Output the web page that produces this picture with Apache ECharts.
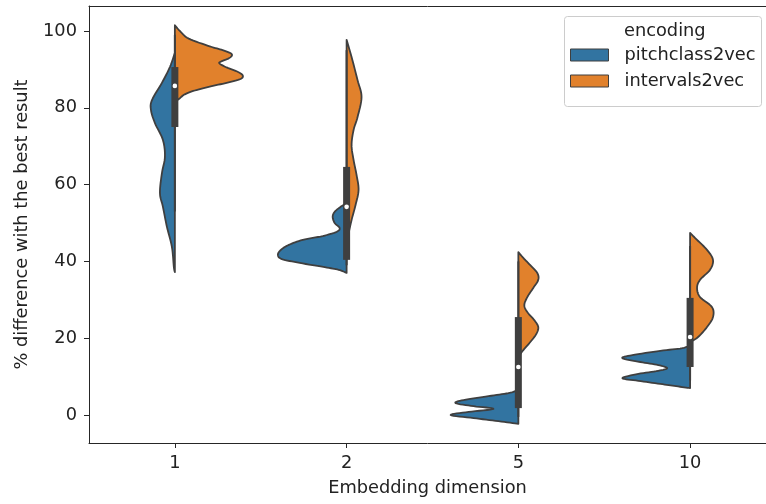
<!DOCTYPE html>
<html>
<head>
<meta charset="utf-8">
<script src="https://cdn.jsdelivr.net/npm/echarts@6/dist/echarts.min.js"></script>
<style>
  html, body { margin: 0; padding: 0; background: #fff; }
  #chart { width: 766px; height: 504px; }
</style>
</head>
<body>
<div id="chart"></div>
<script>
var categories = ['1', '2', '5', '10'];
var yTicks = [0, 20, 40, 60, 80, 100];

// density outlines: [value, density]
var pitchclass2vec = [
  [[94.3, 0], [90.6, 5], [86.5, 13], [82, 23], [79.4, 24], [76, 20], [71.6, 12], [67.2, 10], [63, 13], [57.8, 15], [54.2, 12], [49, 8], [43.8, 3], [38.5, 1], [37.2, 0]],
  [[55.2, 0], [54.2, 6], [52.9, 12], [51.6, 14], [50, 12], [48.7, 7], [47.7, 10], [46.6, 24], [45.6, 44], [44.3, 58], [43, 66], [41.7, 69], [40.6, 65], [39.6, 47], [38.5, 22], [37.8, 8], [37, 0]],
  [[6.5, 0], [5.7, 10], [4.9, 30], [3.9, 55], [3.1, 63], [2.3, 45], [1.6, 25], [0.8, 50], [0, 68], [-0.8, 45], [-1.6, 20], [-2.3, 0]],
  [[18.2, 0], [17.4, 8], [16.7, 30], [15.6, 58], [14.8, 68], [13.8, 50], [13, 32], [12.2, 23], [11.5, 32], [10.7, 52], [9.6, 68], [8.9, 52], [8.1, 30], [7.5, 14], [7, 0]]
];
var intervals2vec = [
  [[101.5, 0], [100, 5], [98, 14], [96, 35], [95, 48], [94, 57], [93, 55], [92, 46], [91.5, 45], [90.5, 52], [89.5, 62], [88.5, 68], [87.5, 66], [86.5, 52], [85.5, 35], [84.5, 20], [83.5, 10], [82.5, 5], [81.5, 0]],
  [[97.7, 0], [93.2, 5], [87.2, 11], [82.8, 15], [77.6, 11], [74.2, 7], [70.3, 5], [66.4, 7], [62.5, 10], [58.6, 12], [54.7, 9], [50.8, 5], [47.4, 2], [45.6, 0]],
  [[42.4, 0], [40.9, 5], [39, 12], [37, 19], [35.2, 20], [33.1, 15], [30.7, 9], [28.6, 6], [26.8, 9], [24.7, 16], [22.9, 20], [21.1, 18], [19, 12], [16.9, 5], [15.1, 0]],
  [[47.4, 0], [45.6, 7], [43, 17], [40.4, 23], [37.8, 20], [35.2, 10], [33.1, 7], [30.7, 10], [28.1, 22], [25.5, 23], [22.9, 17], [20.3, 8], [19, 0]]
];

// inner box stats
var q1 = [75, 40.4, 1.8, 12.5];
var medians = [85.7, 54.2, 12.5, 20.3];
var q3 = [90.6, 64.6, 25.5, 30.5];
var whiskerLow = [53, 39, -0.5, 9];
var whiskerHigh = [99, 95, 40, 44];

var blue = '#3274a1';
var orange = '#e1812c';
var edge = '#3f3f3f';
var spine = '#262626';

var maxDensity = 0;
pitchclass2vec.concat(intervals2vec).forEach(function (p) {
  p.forEach(function (d) { maxDensity = Math.max(maxDensity, d[1]); });
});

// catmull-rom sampling so the outline looks like a kde curve
function smoothPoints(pts) {
  var out = [];
  for (var i = 0; i < pts.length - 1; i++) {
    var p0 = pts[i - 1] || pts[i], p1 = pts[i], p2 = pts[i + 1], p3 = pts[i + 2] || pts[i + 1];
    for (var t = 0; t < 1; t += 0.125) {
      var t2 = t * t, t3 = t2 * t;
      var x = 0.5 * ((2 * p1[0]) + (-p0[0] + p2[0]) * t + (2 * p0[0] - 5 * p1[0] + 4 * p2[0] - p3[0]) * t2 + (-p0[0] + 3 * p1[0] - 3 * p2[0] + p3[0]) * t3);
      var y = 0.5 * ((2 * p1[1]) + (-p0[1] + p2[1]) * t + (2 * p0[1] - 5 * p1[1] + 4 * p2[1] - p3[1]) * t2 + (-p0[1] + 3 * p1[1] - 3 * p2[1] + p3[1]) * t3);
      out.push([x, y]);
    }
  }
  out.push(pts[pts.length - 1]);
  return out;
}

function violin(profiles, side, color) {
  return function (params, api) {
    var i = api.value(0);
    var cx = api.coord([i, 0])[0];
    var half = api.size([1, 0])[0] * 0.4;
    var pts = profiles[i].map(function (d) {
      return [cx + side * d[1] / maxDensity * half, api.coord([i, d[0]])[1]];
    });
    var outline = smoothPoints(pts).map(function (p) {
      return [side < 0 ? Math.min(p[0], cx) : Math.max(p[0], cx), p[1]];
    });
    return {
      type: 'polygon',
      shape: { points: outline },
      style: { fill: color, stroke: edge, lineWidth: 1.8, lineJoin: 'round' }
    };
  };
}

function innerBox(params, api) {
  var i = api.value(0);
  var cx = api.coord([i, 0])[0];
  var yLo = api.coord([i, whiskerLow[i]])[1];
  var yHi = api.coord([i, whiskerHigh[i]])[1];
  var yQ1 = api.coord([i, q1[i]])[1];
  var yQ3 = api.coord([i, q3[i]])[1];
  var yMed = api.coord([i, medians[i]])[1];
  return {
    type: 'group',
    children: [
      { type: 'line', shape: { x1: cx, y1: yLo, x2: cx, y2: yHi }, style: { stroke: edge, lineWidth: 2 } },
      { type: 'rect', shape: { x: cx - 3.5, y: yQ3, width: 7, height: yQ1 - yQ3 }, style: { fill: edge } },
      { type: 'circle', shape: { cx: cx, cy: yMed, r: 2.3 }, style: { fill: '#fff' } }
    ]
  };
}

var idx = categories.map(function (c, i) { return [i]; });
var catTicks = categories.map(function (c, i) { return i; });
var font = 'DejaVu Sans';

var chart = echarts.init(document.getElementById('chart'));
var option = {
  animation: false,
  textStyle: { fontFamily: font },
  grid: { left: 89, top: 6, right: 0, bottom: 61 },
  xAxis: [{
    type: 'value',
    min: -0.5,
    max: 3.442,
    name: 'Embedding dimension',
    nameLocation: 'middle',
    nameGap: 36,
    nameTextStyle: { fontSize: 17.8, color: '#222', fontFamily: font },
    axisLine: { show: true, onZero: false, lineStyle: { color: spine, width: 1 } },
    axisTick: { length: 5, customValues: catTicks, lineStyle: { color: spine } },
    axisLabel: {
      fontSize: 17.8, color: '#222', margin: 11, fontFamily: font, customValues: catTicks,
      formatter: function (v) { return categories[Math.round(v)]; }
    },
    splitLine: { show: false }
  }, {
    type: 'value',
    position: 'top',
    min: -0.5,
    max: 3.442,
    axisLine: { show: true, onZero: false, lineStyle: { color: spine, width: 1 } },
    axisTick: { show: false },
    axisLabel: { show: false },
    splitLine: { show: false }
  }],
  yAxis: {
    type: 'value',
    min: -7.29,
    max: 106.5,
    name: '% difference with the best result',
    nameLocation: 'middle',
    nameGap: 58,
    nameTextStyle: { fontSize: 17.8, color: '#222', fontFamily: font },
    axisLine: { show: true, onZero: false, lineStyle: { color: spine, width: 1 } },
    axisTick: { show: true, length: 5, customValues: yTicks, lineStyle: { color: spine } },
    axisLabel: { fontSize: 17.8, color: '#222', margin: 12, customValues: yTicks, fontFamily: font },
    splitLine: { show: false }
  },
  legend: {
    orient: 'vertical',
    left: 570,
    top: 46,
    padding: 0,
    itemWidth: 38,
    itemHeight: 12,
    itemGap: 8,
    icon: 'rect',
    z: 10,
    itemStyle: { borderColor: edge, borderWidth: 1 },
    textStyle: { fontSize: 17.8, color: '#222', fontFamily: font, padding: [0, 0, 0, 11] },
    data: ['pitchclass2vec', 'intervals2vec']
  },
  graphic: [
    { type: 'rect', z: 5, shape: { x: 564.5, y: 16.5, width: 197, height: 90, r: 3 }, style: { fill: 'rgba(255,255,255,0.8)', stroke: '#cccccc', lineWidth: 1 } },
    { type: 'text', z: 6, x: 624, y: 31, style: { text: 'encoding', fontSize: 17.8, fill: '#222', fontFamily: font, verticalAlign: 'middle' } }
  ],
  series: [
    { name: 'pitchclass2vec', type: 'custom', renderItem: violin(pitchclass2vec, -1, blue), itemStyle: { color: blue }, data: idx, z: 2 },
    { name: 'intervals2vec', type: 'custom', renderItem: violin(intervals2vec, 1, orange), itemStyle: { color: orange }, data: idx, z: 2 },
    { name: 'box', type: 'custom', renderItem: innerBox, data: idx, z: 3 }
  ]
};
chart.setOption(option);
</script>
</body>
</html>
